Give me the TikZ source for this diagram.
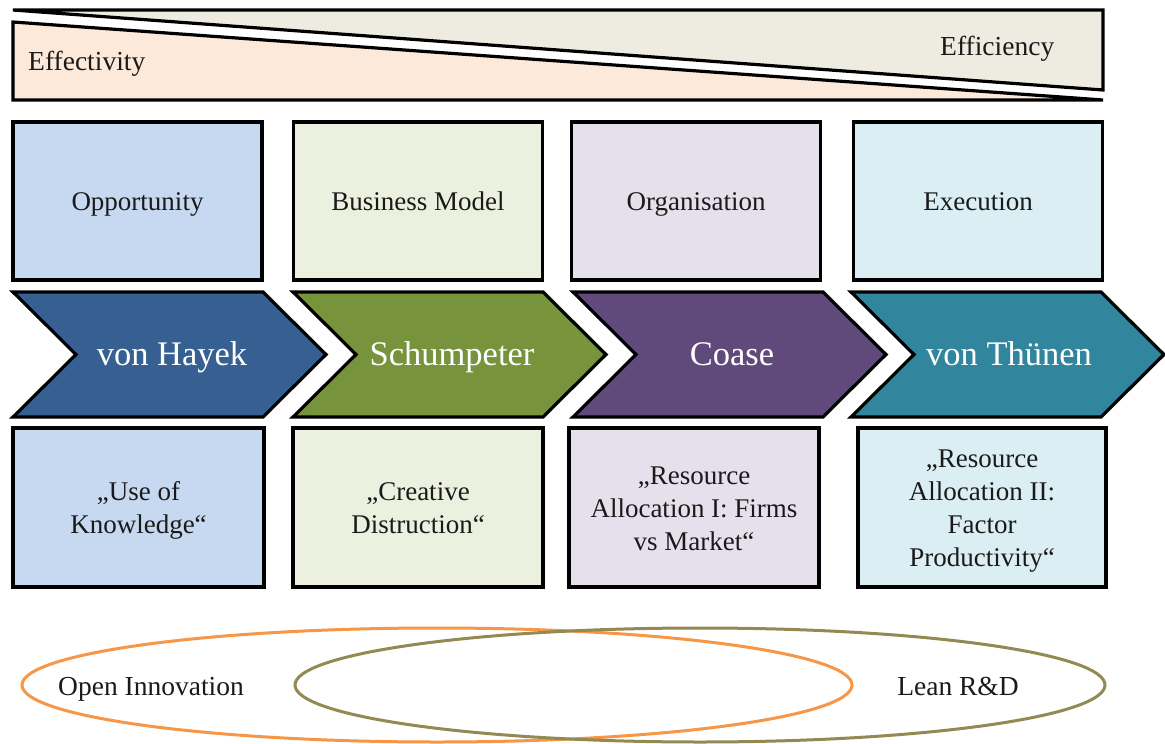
\documentclass[tikz,border=0pt]{standalone}
\usepackage{fontspec}
\setmainfont{Liberation Serif}
\definecolor{effic}{HTML}{EEECE1}
\definecolor{effec}{HTML}{FDE9D9}
\definecolor{fillA}{HTML}{C6D9F1}
\definecolor{fillB}{HTML}{EBF1DE}
\definecolor{fillC}{HTML}{E5E0EC}
\definecolor{fillD}{HTML}{DBEEF4}
\definecolor{chevA}{HTML}{376092}
\definecolor{chevB}{HTML}{77933C}
\definecolor{chevC}{HTML}{604A7B}
\definecolor{chevD}{HTML}{31859C}
\definecolor{ellO}{HTML}{F79646}
\definecolor{ellG}{HTML}{938953}
\definecolor{txt}{HTML}{1A1A1A}
\newcommand\mystrut{\rule[-6.9pt]{0pt}{33pt}}
\begin{document}
\begin{tikzpicture}[x=1pt,y=-1pt,
  border/.style={draw=black, line width=3.2pt, line join=miter},
  phasebox/.style={border, minimum width=249pt, minimum height=158pt, inner sep=0pt,
    align=center, text=txt, font=\fontsize{27}{33}\selectfont},
  chevtext/.style={text=white, font=\fontsize{34.5}{40}\selectfont, inner sep=0pt,
    text height=27pt, text depth=5pt},
  plain/.style={text=txt, font=\fontsize{27.5}{33}\selectfont, inner sep=0pt},
  ell/.style={line width=3pt}
]
\useasboundingbox (0,0) rectangle (1165,744);

% top wedges
\draw[border, fill=effec] (13,22) -- (1103,100) -- (13,100) -- cycle;
\draw[border, fill=effic] (13,10) -- (1103,10) -- (1103,90) -- cycle;
\node[plain, anchor=base west] (effec) at (28,70) {Effectivity};
\node[plain, anchor=base west] (effic) at (940,55) {Efficiency};

% top row boxes
\node[phasebox, fill=fillA] (t1) at (137.5,201) {\mystrut Opportunity};
\node[phasebox, fill=fillB] (t2) at (418,201) {\mystrut Business Model};
\node[phasebox, fill=fillC] (t3) at (696,201) {\mystrut Organisation};
\node[phasebox, fill=fillD] (t4) at (978,201) {\mystrut Execution};

% chevrons
\foreach \L/\c in {13/chevA, 293/chevB, 573/chevC, 851/chevD}{
  \draw[border, fill=\c] (\L,292) -- ({\L+250},292) -- ({\L+313},354.5) -- ({\L+250},417)
     -- (\L,417) -- ({\L+63},354.5) -- cycle;
}
\node[chevtext] (c1) at (172,354) {von Hayek};
\node[chevtext] (c2) at (452,354) {Schumpeter};
\node[chevtext] (c3) at (732,354) {Coase};
\node[chevtext] (c4) at (1009,354) {von Thünen};

% bottom row boxes
\node[phasebox, fill=fillA, minimum width=251pt, minimum height=159pt] (b1) at (138.5,507.5) {\mystrut„Use of\\Knowledge“\mystrut};
\node[phasebox, fill=fillB, minimum width=250pt, minimum height=159pt] (b2) at (418,507.5) {\mystrut„Creative\\Distruction“\mystrut};
\node[phasebox, fill=fillC, minimum width=250pt, minimum height=159pt] (b3) at (694,507.5) {\mystrut„Resource\\Allocation I: Firms\\vs Market“\mystrut};
\node[phasebox, fill=fillD, minimum width=248pt, minimum height=159pt] (b4) at (982,507.5) {\mystrut„Resource\\Allocation II:\\Factor\\Productivity“\mystrut};

% ellipses
\draw[ell, draw=ellO] (437,685) ellipse [x radius=415, y radius=57];
\draw[ell, draw=ellG] (700,685) ellipse [x radius=405, y radius=57];
\node[plain, anchor=base west] (oi) at (58,695) {Open Innovation};
\node[plain, anchor=base] (lr) at (958,695) {Lean R\&D};
\end{tikzpicture}
\end{document}
